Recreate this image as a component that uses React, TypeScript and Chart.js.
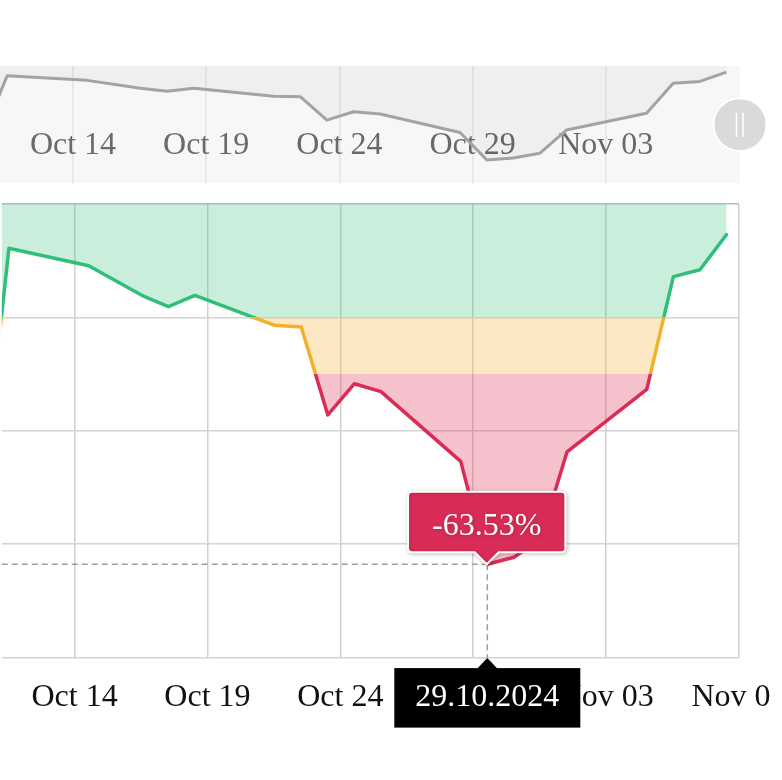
import React, { useEffect, useRef } from 'react';
import { Chart, registerables } from 'chart.js';

Chart.register(...registerables);

// ---------- data ----------
const DATES = [
  '2024-10-10', '2024-10-11', '2024-10-14', '2024-10-16', '2024-10-17', '2024-10-18',
  '2024-10-21', '2024-10-22', '2024-10-23', '2024-10-24', '2024-10-25',
  '2024-10-28', '2024-10-29', '2024-10-30', '2024-10-31', '2024-11-01',
  '2024-11-04', '2024-11-05', '2024-11-06', '2024-11-07',
];
const DRAWDOWN = [
  -51.0, -7.8, -10.9, -16.1, -18.1, -16.1,
  -21.4, -21.7, -37.2, -31.7, -33.1,
  -45.4, -63.53, -62.3, -59.1, -43.7,
  -32.7, -12.8, -11.6, -5.4,
];
const X_TICK_DATES = ['2024-10-14', '2024-10-19', '2024-10-24', '2024-10-29', '2024-11-03', '2024-11-08'];
const NAV_TICK_DATES = ['2024-10-14', '2024-10-19', '2024-10-24', '2024-10-29', '2024-11-03'];
const Y_TICKS = [0, -20, -40, -60, -80];
const Y_RANGE = [-80, 0];
const NAV_Y_RANGE = [-79, -1.4];
const VIEW_RANGE = ['2024-10-11T06:15:00Z', '2024-11-08T00:00:00Z'];
const ZONE_LIMITS = [-20, -30];
const HIGHLIGHT_DATE = '2024-10-29';
const MONTHS = ['Jan', 'Feb', 'Mar', 'Apr', 'May', 'Jun', 'Jul', 'Aug', 'Sep', 'Oct', 'Nov', 'Dec'];

// ---------- style ----------
const SAMPLE_OFFSET = 0.53; // samples are taken mid-day
const FONT = '"Liberation Serif", "Times New Roman", serif';
const ZONE_LINE = ['#2fbf78', '#f3b02a', '#dc2b55'];
const ZONE_FILL = ['rgba(47,191,120,0.26)', 'rgba(245,176,40,0.28)', 'rgba(220,43,85,0.29)'];

const BASE = Date.UTC(2024, 9, 1);
const DAY = 86400000;
const toDay = (s: string) => (Date.parse(s.length === 10 ? s + 'T00:00:00Z' : s) - BASE) / DAY;
const fmtTick = (v: number) => {
  const d = new Date(BASE + Math.round(v) * DAY);
  return `${MONTHS[d.getUTCMonth()]} ${String(d.getUTCDate()).padStart(2, '0')}`;
};
const fmtFull = (s: string) => {
  const [y, m, d] = s.split('-');
  return `${d}.${m}.${y}`;
};

const POINTS = DATES.map((d, i) => ({ x: toDay(d) + SAMPLE_OFFSET, y: DRAWDOWN[i] }));
const X_MIN = toDay(VIEW_RANGE[0]);
const X_MAX = toDay(VIEW_RANGE[1]);

function zoneGradient(chart: any, colors: string[]) {
  const { chartArea, scales } = chart;
  if (!chartArea || !scales.y) return colors[0];
  const h = chartArea.bottom - chartArea.top;
  const s = ZONE_LIMITS.map((v) => Math.min(1, Math.max(0, (scales.y.getPixelForValue(v) - chartArea.top) / h)));
  const g = chart.ctx.createLinearGradient(0, chartArea.top, 0, chartArea.bottom);
  g.addColorStop(0, colors[0]);
  g.addColorStop(s[0], colors[0]);
  g.addColorStop(s[0], colors[1]);
  g.addColorStop(s[1], colors[1]);
  g.addColorStop(s[1], colors[2]);
  g.addColorStop(1, colors[2]);
  return g;
}

const crosshairPlugin = {
  id: 'crosshair',
  afterDatasetsDraw(chart: any) {
    const idx = DATES.indexOf(HIGHLIGHT_DATE);
    const pt = chart.getDatasetMeta(0).data[idx];
    if (!pt) return;
    const { ctx, chartArea } = chart;
    ctx.save();
    ctx.setLineDash([6, 4]);
    ctx.strokeStyle = '#9c9c9c';
    ctx.lineWidth = 1.5;
    ctx.beginPath();
    ctx.moveTo(Math.max(chartArea.left, 0), pt.y);
    ctx.lineTo(pt.x, pt.y);
    ctx.moveTo(pt.x, pt.y);
    ctx.lineTo(pt.x, chartArea.bottom);
    ctx.stroke();
    ctx.restore();
  },
  afterDraw(chart: any) {
    const idx = DATES.indexOf(HIGHLIGHT_DATE);
    const pt = chart.getDatasetMeta(0).data[idx];
    if (!pt) return;
    const { ctx, chartArea } = chart;
    const label = fmtFull(HIGHLIGHT_DATE);
    ctx.save();
    ctx.font = `32px ${FONT}`;
    const w = ctx.measureText(label).width + 42;
    const top = chartArea.bottom + 10.5;
    const h = 59.5;
    ctx.fillStyle = '#000';
    ctx.fillRect(pt.x - w / 2, top, w, h);
    ctx.beginPath();
    ctx.moveTo(pt.x - 10, top + 0.5);
    ctx.lineTo(pt.x, chartArea.bottom + 0.5);
    ctx.lineTo(pt.x + 10, top + 0.5);
    ctx.closePath();
    ctx.fill();
    ctx.fillStyle = '#fff';
    ctx.textAlign = 'center';
    ctx.textBaseline = 'middle';
    ctx.fillText(label, pt.x, chartArea.bottom + 39.5);
    ctx.restore();
  },
  beforeTooltipDraw(chart: any) {
    const ctx = chart.ctx;
    ctx.save();
    ctx.shadowColor = 'rgba(0,0,0,0.22)';
    ctx.shadowBlur = 4;
    ctx.shadowOffsetX = 1;
    ctx.shadowOffsetY = 1;
  },
  afterTooltipDraw(chart: any) {
    chart.ctx.restore();
  },
};

const navDecorPlugin = {
  id: 'navDecor',
  beforeDraw(chart: any) {
    const { ctx, chartArea } = chart;
    ctx.save();
    ctx.fillStyle = '#f7f7f7';
    ctx.fillRect(chartArea.left, chartArea.top, chartArea.right - chartArea.left + 1, chartArea.bottom - chartArea.top);
    ctx.restore();
  },
  afterDraw(chart: any) {
    const { ctx, chartArea } = chart;
    const cx = chartArea.right + 1;
    const cy = (chartArea.top + chartArea.bottom) / 2;
    ctx.save();
    ctx.beginPath();
    ctx.arc(cx, cy, 26.5, 0, Math.PI * 2);
    ctx.fillStyle = '#dadada';
    ctx.fill();
    ctx.lineWidth = 2;
    ctx.strokeStyle = '#ffffff';
    ctx.stroke();
    ctx.beginPath();
    ctx.lineWidth = 1.5;
    ctx.moveTo(cx - 3.5, cy - 12);
    ctx.lineTo(cx - 3.5, cy + 12);
    ctx.moveTo(cx + 3, cy - 12);
    ctx.lineTo(cx + 3, cy + 12);
    ctx.stroke();
    ctx.restore();
  },
};

export default function App() {
  const mainRef = useRef<HTMLCanvasElement>(null);
  const navRef = useRef<HTMLCanvasElement>(null);

  useEffect(() => {
    const main = new Chart(mainRef.current as HTMLCanvasElement, {
      type: 'line',
      data: {
        datasets: [
          {
            data: POINTS,
            borderColor: (c: any) => zoneGradient(c.chart, ZONE_LINE),
            backgroundColor: (c: any) => zoneGradient(c.chart, ZONE_FILL),
            fill: 'end',
            borderWidth: 3.5,
            borderJoinStyle: 'round',
            borderCapStyle: 'round',
            pointRadius: 0,
            pointHoverRadius: 0,
            tension: 0,
          },
        ],
      },
      options: {
        responsive: false,
        animation: false,
        events: [],
        layout: { padding: { top: 204, left: -1.5, right: 81, bottom: 42 } },
        scales: {
          x: {
            type: 'linear',
            min: X_MIN,
            max: X_MAX,
            afterBuildTicks: (s: any) => {
              s.ticks = X_TICK_DATES.map((d) => ({ value: toDay(d) }));
            },
            grid: { color: '#d0d0d0', lineWidth: 1.5, drawTicks: false },
            border: { display: false },
            ticks: {
              callback: (v: any) => fmtTick(Number(v)),
              font: { family: FONT, size: 32 },
              color: '#111',
              padding: 21,
              maxRotation: 0,
              autoSkip: false,
            },
          },
          y: {
            min: Y_RANGE[0],
            max: Y_RANGE[1],
            afterBuildTicks: (s: any) => {
              s.ticks = Y_TICKS.map((v) => ({ value: v }));
            },
            afterFit: (s: any) => {
              s.width = 0;
            },
            grid: {
              color: (c: any) => (c.tick && c.tick.value === 0 ? '#b9b9b9' : '#d4d4d4'),
              lineWidth: 1.5,
              drawTicks: false,
            },
            border: { display: false },
            ticks: { display: false },
          },
        },
        plugins: {
          legend: { display: false },
          tooltip: {
            enabled: true,
            backgroundColor: '#d92d57',
            borderColor: '#ffffff',
            borderWidth: 2,
            cornerRadius: 4,
            caretSize: 12,
            caretPadding: 0,
            displayColors: false,
            xAlign: 'center',
            yAlign: 'bottom',
            padding: { left: 24, right: 24, top: 16, bottom: 6 },
            bodyFont: { family: FONT, size: 32 },
            bodyColor: '#ffffff',
            callbacks: {
              title: () => [],
              label: (c: any) => `${c.parsed.y.toFixed(2)}%`,
            },
          },
        },
      },
      plugins: [crosshairPlugin],
    } as any);

    const idx = DATES.indexOf(HIGHLIGHT_DATE);
    const el: any = main.getDatasetMeta(0).data[idx];
    if (el) {
      main.tooltip?.setActiveElements([{ datasetIndex: 0, index: idx }], { x: el.x, y: el.y });
      main.update();
    }

    const nav = new Chart(navRef.current as HTMLCanvasElement, {
      type: 'line',
      data: {
        datasets: [
          {
            data: POINTS,
            borderColor: '#a3a3a3',
            backgroundColor: 'rgba(0,0,0,0.032)',
            fill: 'end',
            borderWidth: 3,
            borderJoinStyle: 'round',
            pointRadius: 0,
            tension: 0,
          },
        ],
      },
      options: {
        responsive: false,
        animation: false,
        events: [],
        layout: { padding: { top: 66, left: 0, right: 81, bottom: 16.7 } },
        scales: {
          x: {
            type: 'linear',
            position: 'center',
            min: X_MIN,
            max: X_MAX,
            afterBuildTicks: (s: any) => {
              s.ticks = NAV_TICK_DATES.map((d) => ({ value: toDay(d) }));
            },
            grid: { color: '#e4e4e4', lineWidth: 1.5, drawTicks: false },
            border: { display: false },
            ticks: {
              callback: (v: any) => fmtTick(Number(v)),
              font: { family: FONT, size: 32 },
              color: '#6a6a6a',
              padding: 2,
              maxRotation: 0,
              autoSkip: false,
            },
          },
          y: { display: false, min: NAV_Y_RANGE[0], max: NAV_Y_RANGE[1] },
        },
        plugins: { legend: { display: false }, tooltip: { enabled: false } },
      },
      plugins: [navDecorPlugin],
    } as any);

    return () => {
      main.destroy();
      nav.destroy();
    };
  }, []);

  return (
    <div style={{ position: 'absolute', left: 0, top: 0, width: 770, height: 780, overflow: 'hidden', background: '#fff' }}>
      <canvas ref={mainRef} width={820} height={780} style={{ position: 'absolute', left: 0, top: 0 }} />
      <canvas ref={navRef} width={820} height={200} style={{ position: 'absolute', left: 0, top: 0 }} />
    </div>
  );
}
